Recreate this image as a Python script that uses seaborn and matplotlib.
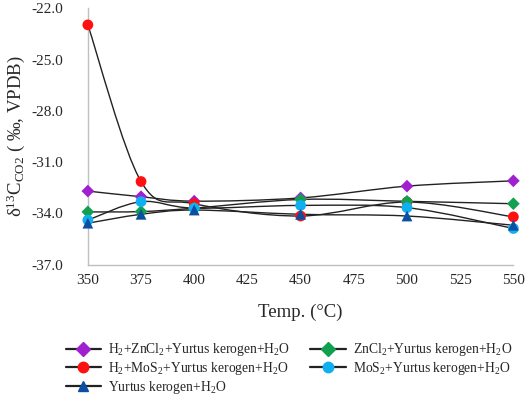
import numpy as np
import pandas as pd
import seaborn as sns
import matplotlib
matplotlib.use('Agg')
import matplotlib.pyplot as plt
from matplotlib.path import Path
from matplotlib.patches import PathPatch
from matplotlib.lines import Line2D

# Data
temps = [350, 375, 400, 450, 500, 550]
h2_zncl2 = [-32.70, -33.03, -33.29, -33.10, -32.41, -32.10]
h2_mos2 = [-22.97, -32.14, -33.44, -34.16, -33.34, -34.21]
zncl2 = [-33.92, -33.90, -33.70, -33.19, -33.30, -33.44]
mos2 = [-34.40, -33.32, -33.70, -33.54, -33.67, -34.89]
kerogen = [-34.58, -34.06, -33.81, -34.06, -34.16, -34.70]

labels = [r'H$_2$+ZnCl$_2$+Yurtus kerogen+H$_2$O',
          r'H$_2$+MoS$_2$+Yurtus kerogen+H$_2$O',
          r'ZnCl$_2$+Yurtus kerogen+H$_2$O',
          r'MoS$_2$+Yurtus kerogen+H$_2$O',
          r'Yurtus kerogen+H$_2$O']
series = [h2_zncl2, h2_mos2, zncl2, mos2, kerogen]
colors = ['#a020d0', '#ff1010', '#10a050', '#10b0f0', '#0a4fa0']
markers = ['D', 'o', 'D', 'o', '^']
msizes = [42, 60, 42, 60, 60]

sns.set_style("white")
plt.rcParams['font.family'] = ['Liberation Serif', 'DejaVu Serif']
plt.rcParams['mathtext.fontset'] = 'custom'
plt.rcParams['mathtext.rm'] = 'Liberation Serif'
plt.rcParams['mathtext.it'] = 'Liberation Serif:italic'


def smooth_path(xs, ys):
    # Excel-style smoothed line as cubic Bezier segments
    pts = np.column_stack([xs, ys]).astype(float)
    ext = np.vstack([pts[0], pts, pts[-1]])
    verts = [tuple(pts[0])]
    codes = [Path.MOVETO]
    for i in range(len(pts) - 1):
        p0, p1, p2, p3 = ext[i], ext[i + 1], ext[i + 2], ext[i + 3]
        c1 = p1 + (p2 - p0) / 6.0
        c2 = p2 - (p3 - p1) / 6.0
        verts += [tuple(c1), tuple(c2), tuple(p2)]
        codes += [Path.CURVE4] * 3
    return Path(verts, codes)


rows = []
for lab, vals in zip(labels, series):
    for t, v in zip(temps, vals):
        rows.append({'Temp': t, 'd13C': v, 'Series': lab})
df = pd.DataFrame(rows)

fig = plt.figure(figsize=(5.26, 3.96), dpi=100)
ax = fig.add_axes([0.167, 0.332, 0.809, 0.647])

for lab, vals in zip(labels, series):
    ax.add_patch(PathPatch(smooth_path(temps, vals), facecolor='none',
                           edgecolor='#222222', lw=1.0, zorder=2))

for lab, c, m, s in zip(labels, colors, markers, msizes):
    sub = df[df['Series'] == lab]
    sns.scatterplot(data=sub, x='Temp', y='d13C', color=c, marker=m, s=s,
                    edgecolor='none', ax=ax, zorder=3, legend=False,
                    clip_on=False)

ax.set_xlim(350, 550)
ax.set_ylim(-37, -22)
ax.set_xticks(np.arange(350, 551, 25))
ax.set_yticks(np.arange(-37, -21.9, 3))
ax.yaxis.set_major_formatter(matplotlib.ticker.FormatStrFormatter('%.1f'))
ax.tick_params(direction='in', length=4, color='#bfbfbf', labelsize=11)
ax.tick_params(axis='y', pad=18)
ax.tick_params(axis='x', pad=7)
for side in ['top', 'right']:
    ax.spines[side].set_visible(False)
for side in ['left', 'bottom']:
    ax.spines[side].set_color('#bfbfbf')
    ax.spines[side].set_linewidth(1.0)

ax.set_xlabel('Temp. (°C)', fontsize=13.5, labelpad=12)
ax.set_ylabel('δ$^{13}$C$_{\\rm CO2}$ ( ‰, VPDB)', fontsize=13.5, labelpad=3)

# legend: column-major, so order gives rows purple|green, red|cyan, blue
order = [0, 1, 4, 2, 3]
handles = [Line2D([], [], color='#222222', lw=1.6, marker=markers[i],
                  markerfacecolor=colors[i], markeredgecolor=colors[i],
                  markersize=7.5) for i in order]
fig.legend(handles, [labels[i] for i in order], loc='upper left',
           bbox_to_anchor=(0.112, 0.155), ncol=2, frameon=False, fontsize=9.8,
           handlelength=2.6, handletextpad=0.5, columnspacing=1.5,
           labelspacing=0.12, borderpad=0)

fig.savefig('out.png', dpi=100)
